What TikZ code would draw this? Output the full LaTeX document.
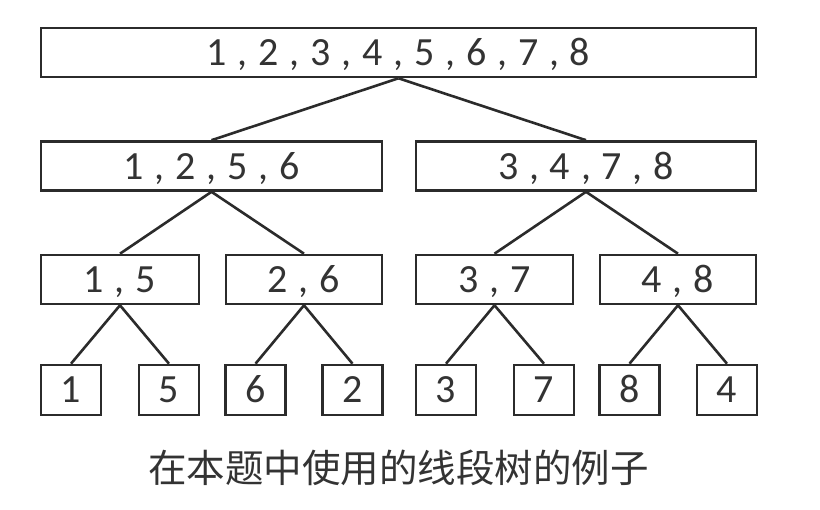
\documentclass[tikz,border=0pt]{standalone}
\usepackage{fontspec}
\newfontfamily\digitfont[LetterSpace=27]{Carlito}
\newfontfamily\cjkfont{Noto Sans CJK SC}
\definecolor{ink}{HTML}{2B2B2B}
\definecolor{txt}{HTML}{333333}
\begin{document}
\begin{tikzpicture}[x=1pt,y=-1pt,
  segbox/.style={draw=ink, line width=2.6pt, rectangle, inner sep=0pt,
    text height=38pt, text depth=11pt, text=txt,
    font=\digitfont\fontsize{40}{41}\selectfont},
  leafbox/.style={segbox, minimum width=60pt, text height=38pt, text depth=12pt},
  link/.style={draw=ink, line width=2.6pt}]
\useasboundingbox (0,0) rectangle (820,510);
% root
\node[segbox, minimum width=715pt] (r) at (398.5,52.5) {1,2,3,4,5,6,7,8};
% level 2
\node[segbox, minimum width=341pt] (a) at (211.5,166) {1,2,5,6};
\node[segbox, minimum width=340pt] (b) at (586,166) {3,4,7,8};
% level 3
\node[segbox, minimum width=158pt] (a1) at (120,279.5) {1,5};
\node[segbox, minimum width=156pt] (a2) at (304,279.5) {2,6};
\node[segbox, minimum width=157pt] (b1) at (494.5,279.5) {3,7};
\node[segbox, minimum width=156pt] (b2) at (678,279.5) {4,8};
% leaves
\node[leafbox] (l1) at (71,390) {1};
\node[leafbox] (l5) at (169,390) {5};
\node[leafbox] (l6) at (255.5,390) {6};
\node[leafbox] (l2) at (352.5,390) {2};
\node[leafbox] (l3) at (446,390) {3};
\node[leafbox] (l7) at (544,390) {7};
\node[leafbox] (l8) at (629.5,390) {8};
\node[leafbox] (l4) at (727,390) {4};
% links
\draw[link] (r.south) -- (a.north);
\draw[link] (r.south) -- (b.north);
\draw[link] (a.south) -- (a1.north);
\draw[link] (a.south) -- (a2.north);
\draw[link] (b.south) -- (b1.north);
\draw[link] (b.south) -- (b2.north);
\draw[link] (a1.south) -- (l1.north);
\draw[link] (a1.south) -- (l5.north);
\draw[link] (a2.south) -- (l6.north);
\draw[link] (a2.south) -- (l2.north);
\draw[link] (b1.south) -- (l3.north);
\draw[link] (b1.south) -- (l7.north);
\draw[link] (b2.south) -- (l8.north);
\draw[link] (b2.south) -- (l4.north);
% caption
\node[text=txt, font=\cjkfont\fontsize{38.5}{40}\selectfont, inner sep=0pt] (cap) at (398.5,467.5) {在本题中使用的线段树的例子};
\end{tikzpicture}
\end{document}
